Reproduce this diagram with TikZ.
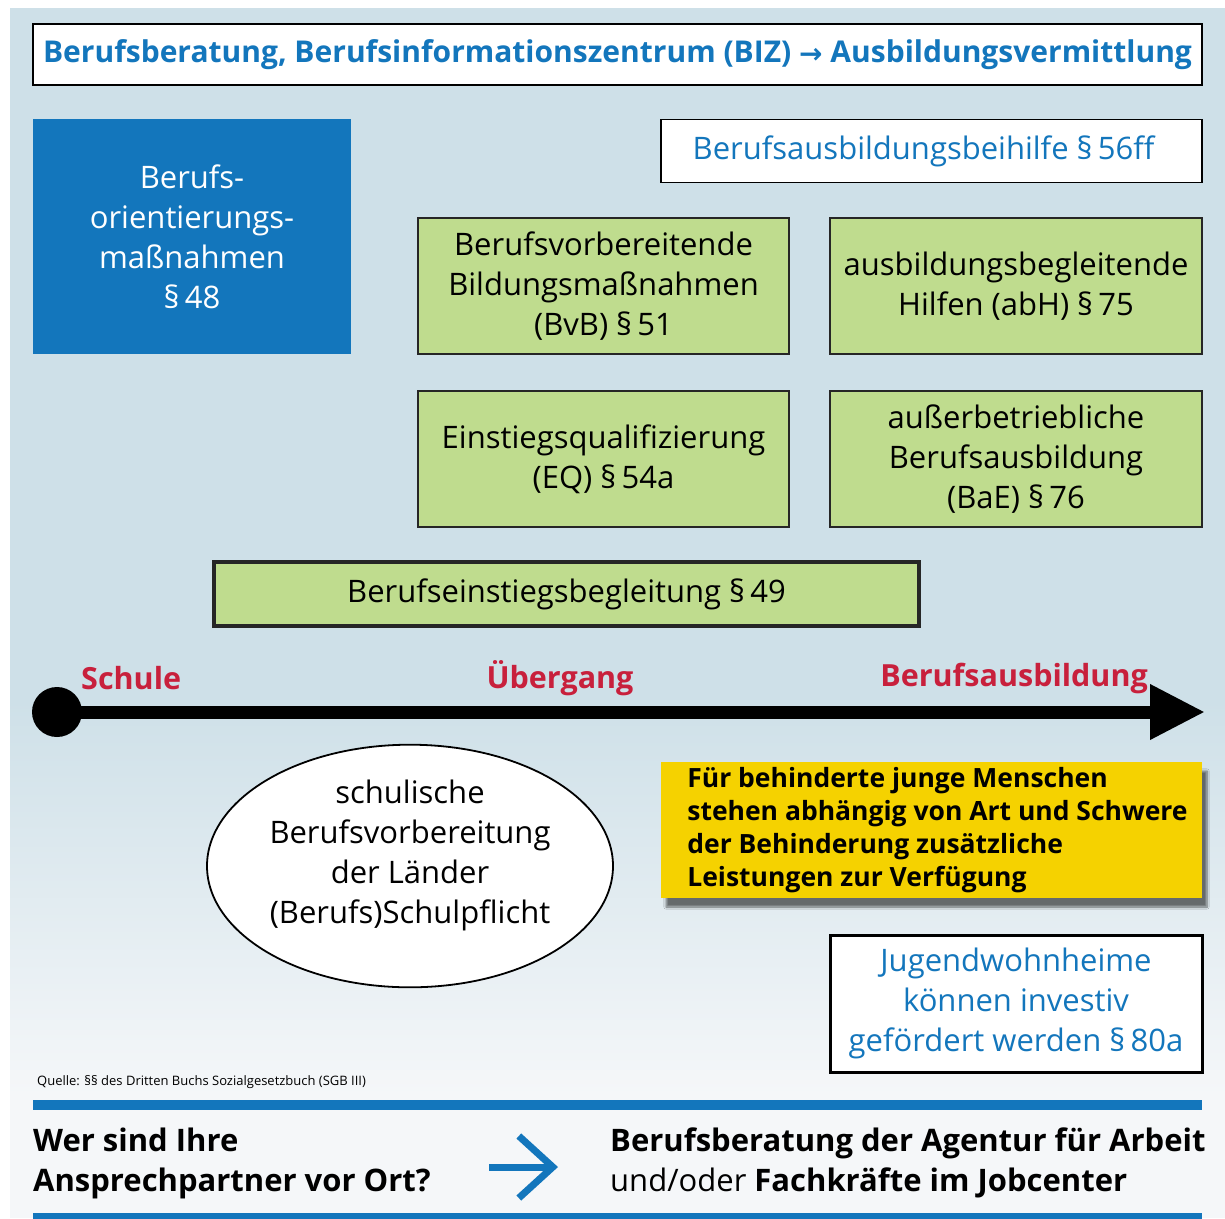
\documentclass[tikz,border=0pt]{standalone}
\usepackage{fontspec}
\setmainfont{Open Sans}
\newfontfamily\arrowfont{DejaVu Sans}
\usetikzlibrary{arrows.meta,shapes.geometric,shadows,shadows.blur}
\definecolor{bgblue}{HTML}{CEE0E8}
\definecolor{bgwhite}{HTML}{F5F7F9}
\definecolor{mblue}{HTML}{1376BC}
\definecolor{mgreen}{HTML}{BFDC8E}
\definecolor{mred}{HTML}{C8203C}
\definecolor{myellow}{HTML}{F5D200}
\tikzset{
  txt/.style={font=\fontsize{31}{40}\selectfont},
  whitebox/.style={draw=black, line width=1.8, fill=white, inner sep=0},
  greenbox/.style={draw=black!85, line width=1.6, fill=mgreen, align=center, inner sep=0, minimum width=371, minimum height=136, txt},
  redlabel/.style={text=mred, font=\fontsize{30.5}{36}\selectfont\bfseries, inner sep=0},
}
\begin{document}
\begin{tikzpicture}[x=1pt,y=-1pt]
\useasboundingbox (0,0) rectangle (1225,1218);
% background
\fill[white] (0,0) rectangle (1225,1218);
\fill[bgblue] (10,8) rectangle (1225,700);
\shade[top color=bgblue, bottom color=bgwhite] (10,700) rectangle (1225,1095);
\fill[bgwhite] (10,1095) rectangle (1225,1218);

% title
\node[whitebox, minimum width=1169, minimum height=61, text=mblue, font=\fontsize{30}{36}\selectfont\bfseries] (title) at (617.5,54.5)
  {Berufsberatung, Berufsinformationszentrum (BIZ) \raisebox{-1pt}{\arrowfont\fontsize{28}{30}\selectfont →} Ausbildungsvermittlung};

% blue box
\node[fill=mblue, text=white, align=center, inner sep=0, minimum width=318, minimum height=235, txt] (bo) at (192,236.5)
  {Berufs-\\orientierungs-\\maßnahmen\\§\,48};

% Berufsausbildungsbeihilfe
\node[whitebox, minimum width=541, minimum height=63, text=mblue, txt] (bab) at (931.5,151)
  {\hspace*{-16pt}Berufsausbildungsbeihilfe §\,56ff};

% green boxes
\node[greenbox] (bvb) at (603.5,286) {Berufsvorbereitende\\Bildungsmaßnahmen\\(BvB) §\,51};
\node[greenbox, minimum width=372] (abh) at (1016,286) {ausbildungsbegleitende\\Hilfen (abH) §\,75};
\node[greenbox] (eq) at (603.5,459) {Einstiegsqualifizierung\\(EQ) §\,54a};
\node[greenbox, minimum width=372] (bae) at (1016,459) {außerbetriebliche\\Berufsausbildung\\(BaE) §\,76};
\node[greenbox, line width=3.2, minimum width=705, minimum height=64] (beb) at (566.5,594) {\raisebox{-2pt}{Berufseinstiegsbegleitung §\,49}};

% timeline
\node[circle, fill=black, minimum size=50, inner sep=0] (start) at (57,712) {};
\coordinate (tlend) at (1205,712);
\draw[line width=13, -{Triangle[length=55pt,width=52pt]}] (start.center) -- (tlend);
\node[redlabel, anchor=west] (schule) at (81,678) {Schule};
\node[redlabel] (uebergang) at (560,678) {Übergang};
\node[redlabel, anchor=east] (ausb) at (1148,678) {Berufsausbildung};

% ellipse
\node[ellipse, draw=black, line width=1.8, fill=white, minimum width=406, minimum height=220, inner sep=0, align=center, txt] (schul) at (410,866)
  {schulische\\Berufsvorbereitung\\der Länder\\(Berufs)Schulpflicht\\[-12pt]};

% yellow box
\node[fill=myellow, minimum width=541, minimum height=136, align=left, inner sep=0,
      font=\fontsize{26.5}{33}\selectfont\bfseries,
      blur shadow={shadow xshift=5pt, shadow yshift=-9pt, shadow blur steps=8, shadow opacity=55}] (behind) at (931.5,830)
  {\hspace*{12pt}Für behinderte junge Menschen\\\hspace*{12pt}stehen abhängig von Art und Schwere\\\hspace*{12pt}der Behinderung zusätzliche\\\hspace*{12pt}Leistungen zur Verfügung};

% Jugendwohnheime
\node[whitebox, line width=3, minimum width=372, minimum height=137, text=mblue, align=center, txt] (jwh) at (1016,1003.5)
  {Jugendwohnheime\\können investiv\\gefördert werden §\,80a};

% source
\node[anchor=west, inner sep=0, font=\fontsize{13}{15}\selectfont] (quelle) at (37,1082)
  {Quelle: §§ des Dritten Buchs Sozialgesetzbuch (SGB III)};

% bottom lines
\coordinate (l1a) at (33,1105); \coordinate (l1b) at (1202,1105);
\coordinate (l2a) at (33,1217); \coordinate (l2b) at (1202,1217);
\draw[mblue, line width=10] (l1a) -- (l1b);
\draw[mblue, line width=8] (l2a) -- (l2b);

% bottom texts
\node[anchor=west, align=left, inner sep=0, font=\fontsize{31}{40}\selectfont\bfseries] (wer) at (33,1163)
  {Wer sind Ihre\\Ansprechpartner vor Ort?};
\node[anchor=west, align=left, inner sep=0, txt] (ba) at (610,1163)
  {\textbf{Berufsberatung der Agentur für Arbeit}\\und/oder \textbf{Fachkräfte im Jobcenter}};
\coordinate (arrS) at (489,1167);
\coordinate (arrE) at (558,1167);
\draw[mblue, line width=7, -{Straight Barb[length=34pt,width=62pt]}] (arrS) -- (arrE);
\end{tikzpicture}
\end{document}
